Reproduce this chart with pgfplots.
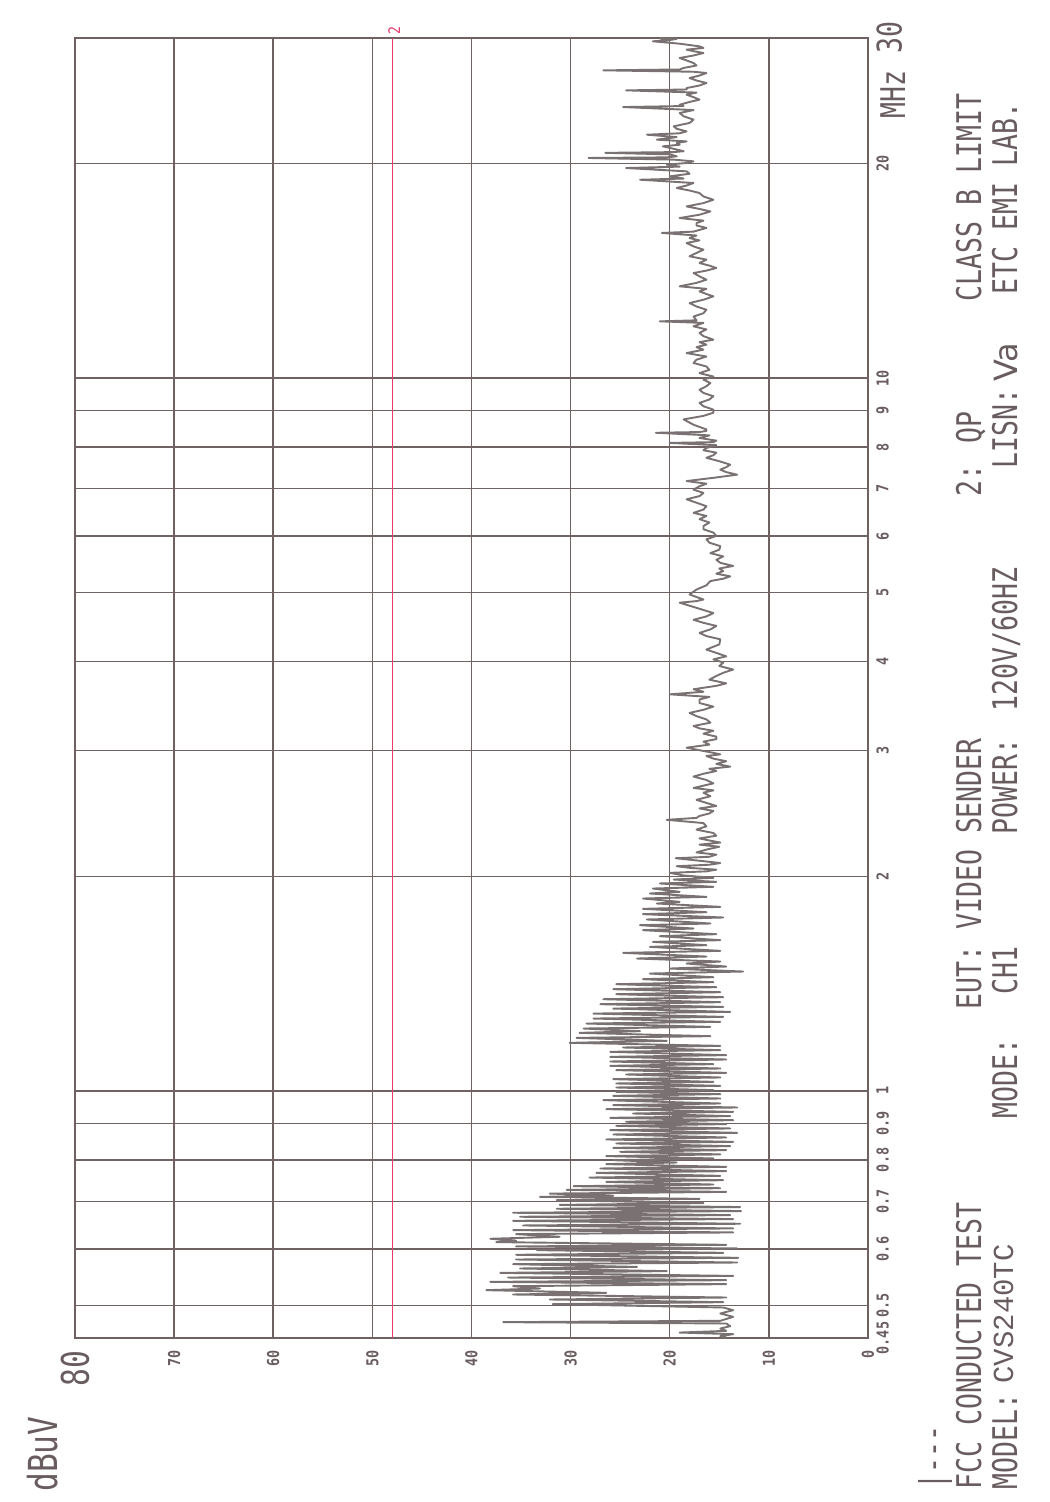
\documentclass[border=0pt]{standalone}
\usepackage{fontspec}
\usepackage{pgfplots}
\usepackage{pgfplotstable}
\pgfplotsset{compat=1.18}
\newfontfamily\plotfont[FakeStretch=0.78]{DejaVu Sans Mono}
\newfontfamily\tickfont[FakeStretch=0.82]{DejaVu Sans Mono}
\newfontfamily\twfont{Liberation Mono}
\newfontfamily\vafont{DejaVu Sans}
\definecolor{gridc}{RGB}{112,98,98}
\definecolor{tracec}{RGB}{122,114,114}
\definecolor{textc}{RGB}{105,92,95}
\definecolor{limitc}{RGB}{232,60,110}

\pgfplotstableread{
f dB
0.4505 14.3
0.4527 14.9
0.4556 13.6
0.4580 19.0
0.4605 14.3
0.4640 14.9
0.4675 13.9
0.4716 14.3
0.4736 36.8
0.4757 14.9
0.4818 13.6
0.4871 14.9
0.4923 13.6
0.4966 14.6
0.5020 31.8
0.5052 14.6
0.5096 32.1
0.5129 14.3
0.5179 35.8
0.5207 26.4
0.5252 38.5
0.5280 33.1
0.5320 35.8
0.5355 14.3
0.5395 38.1
0.5424 14.3
0.5471 36.3
0.5500 13.6
0.5554 37.1
0.5585 20.3
0.5633 35.1
0.5662 23.3
0.5712 35.8
0.5743 13.2
0.5799 35.5
0.5831 13.1
0.5888 35.5
0.5926 14.6
0.5977 33.4
0.6010 13.2
0.6049 35.5
0.6081 14.3
0.6134 37.5
0.6161 35.5
0.6201 38.1
0.6241 31.1
0.6295 35.5
0.6329 13.6
0.6377 35.8
0.6411 13.6
0.6473 34.8
0.6509 12.9
0.6572 35.8
0.6608 13.6
0.6658 35.1
0.6694 13.9
0.6745 35.8
0.6781 12.8
0.6832 31.4
0.6870 12.9
0.6918 31.1
0.6957 16.6
0.7024 31.4
0.7055 17.0
0.7100 33.1
0.7130 25.7
0.7176 32.1
0.7215 14.3
0.7262 30.4
0.7301 14.9
0.7349 29.7
0.7389 15.6
0.7453 26.4
0.7493 14.6
0.7558 28.1
0.7599 14.9
0.7673 27.4
0.7715 14.3
0.7782 27.0
0.7824 14.3
0.7892 26.4
0.7934 19.3
0.7994 25.7
0.8038 15.6
0.8098 26.4
0.8143 14.9
0.8213 25.0
0.8256 14.3
0.8318 25.7
0.8364 13.9
0.8436 25.4
0.8481 13.6
0.8546 26.4
0.8601 14.3
0.8685 25.7
0.8732 13.2
0.8807 26.0
0.8855 13.9
0.8932 25.4
0.8980 14.3
0.9049 24.4
0.9096 13.6
0.9165 26.0
0.9215 13.9
0.9294 23.7
0.9344 13.6
0.9425 26.4
0.9476 13.2
0.9548 25.7
0.9599 14.9
0.9703 26.7
0.9755 14.9
0.9840 25.7
0.9893 14.9
0.9968 25.4
1.0022 15.6
1.0108 25.4
1.0163 14.9
1.0240 25.4
1.0295 15.6
1.0384 25.7
1.0440 14.9
1.0542 24.4
1.0599 14.3
1.0691 25.4
1.0748 14.9
1.0841 26.0
1.0899 15.6
1.0994 26.0
1.1065 14.3
1.1161 26.0
1.1221 14.3
1.1343 26.0
1.1404 14.9
1.1502 24.7
1.1564 14.9
1.1677 30.1
1.1752 20.3
1.1866 29.4
1.1930 15.9
1.2059 29.1
1.2124 23.0
1.2229 28.7
1.2295 15.9
1.2428 28.4
1.2495 14.9
1.2630 27.7
1.2698 14.6
1.2835 27.7
1.2905 13.9
1.3044 25.7
1.3115 14.6
1.3229 27.0
1.3315 14.9
1.3444 26.7
1.3531 14.6
1.3663 25.4
1.3752 14.9
1.3886 25.7
1.3976 15.3
1.4112 25.4
1.4204 15.6
1.4342 22.7
1.4435 15.6
1.4607 22.0
1.4702 12.6
1.4845 20.0
1.4941 14.3
1.5087 18.3
1.5185 14.9
1.5333 23.3
1.5432 16.3
1.5616 24.7
1.5717 14.9
1.5922 22.0
1.6008 16.3
1.6181 21.7
1.6269 14.9
1.6481 21.0
1.6588 15.3
1.6803 22.7
1.6894 17.6
1.7077 23.0
1.7169 15.9
1.7393 22.3
1.7506 14.6
1.7696 22.7
1.7810 16.3
1.8003 22.7
1.8119 14.9
1.8316 21.3
1.8415 19.0
1.8614 22.7
1.8715 16.3
1.8918 22.0
1.9020 19.0
1.9226 21.7
1.9330 15.6
1.9540 21.0
1.9645 15.3
1.9794 19.6
1.9901 15.6
2.005 18.6
2.022 20.0
2.032 16.3
2.043 15.3
2.055 18.0
2.066 19.3
2.076 16.0
2.087 14.9
2.10 16.6
2.12 19.4
2.13 16.0
2.145 15.3
2.16 17.3
2.18 16.3
2.20 15.0
2.215 17.0
2.23 14.9
2.245 16.0
2.26 17.0
2.28 15.3
2.30 15.6
2.325 17.3
2.35 16.3
2.375 16.6
2.40 20.3
2.415 17.3
2.43 17.0
2.45 16.0
2.47 15.6
2.49 17.0
2.51 15.3
2.535 16.3
2.56 17.3
2.59 15.9
2.62 16.6
2.64 15.6
2.66 17.6
2.68 16.6
2.70 15.6
2.73 16.3
2.76 17.6
2.785 16.6
2.81 15.3
2.83 16.0
2.85 13.9
2.875 15.3
2.90 14.3
2.925 15.6
2.95 16.3
2.965 14.9
2.98 15.6
3.005 17.0
3.03 18.3
3.06 16.0
3.09 16.6
3.115 15.3
3.14 15.3
3.17 16.6
3.20 15.6
3.225 17.0
3.25 17.6
3.285 15.9
3.32 16.3
3.355 17.3
3.39 18.0
3.425 16.6
3.46 15.6
3.50 17.0
3.54 17.0
3.57 16.0
3.60 20.0
3.63 16.6
3.66 17.6
3.70 15.3
3.73 14.3
3.775 16.0
3.82 15.3
3.86 14.6
3.90 13.6
3.945 15.0
3.99 14.6
4.03 15.6
4.07 14.3
4.115 15.3
4.16 16.3
4.23 15.0
4.30 14.9
4.345 16.3
4.39 17.0
4.44 15.9
4.49 15.3
4.535 16.6
4.58 17.6
4.63 16.3
4.68 15.6
4.76 17.3
4.84 19.0
4.865 17.3
4.89 16.6
4.97 18.0
5.05 17.3
5.12 16.3
5.19 15.9
5.23 14.6
5.27 13.9
5.315 15.3
5.36 14.6
5.405 15.0
5.45 13.6
5.505 14.9
5.56 15.3
5.62 14.6
5.68 15.9
5.745 15.0
5.81 14.9
5.875 16.0
5.94 16.3
6.005 15.3
6.07 15.6
6.135 16.6
6.20 16.6
6.27 16.0
6.34 17.0
6.405 16.3
6.47 17.6
6.54 16.6
6.61 16.3
6.685 17.3
6.76 18.3
6.83 17.0
6.90 16.6
6.975 17.6
7.05 17.0
7.11 16.3
7.17 18.3
7.245 15.6
7.32 13.2
7.38 14.3
7.44 14.9
7.50 14.3
7.56 13.9
7.645 15.0
7.73 16.3
7.795 15.6
7.86 15.3
7.92 16.6
7.98 16.3
8.05 15.3
8.11 20.0
8.13 15.6
8.17 15.3
8.24 17.0
8.31 16.0
8.38 21.4
8.40 17.0
8.43 16.3
8.47 16.3
8.60 17.6
8.75 18.6
8.85 16.6
8.94 15.6
9.03 15.6
9.13 16.6
9.23 17.0
9.33 16.0
9.43 15.6
9.53 16.6
9.63 17.0
9.74 16.3
9.84 15.9
9.95 16.6
10.05 15.6
10.16 17.0
10.27 16.0
10.38 16.3
10.5 17.6
10.61 17.3
10.72 16.3
10.84 18.3
10.96 16.6
11.05 17.3
11.14 16.3
11.23 17.0
11.32 15.6
11.45 16.6
11.57 17.0
11.70 16.3
11.82 17.6
11.95 16.6
12.01 21.0
12.05 17.3
12.20 17.6
12.33 16.6
12.47 16.3
12.60 17.3
12.74 18.0
12.88 16.6
13.02 15.6
13.12 16.3
13.23 17.0
13.34 16.3
13.45 19.0
13.60 17.3
13.74 16.3
13.89 17.0
14.04 17.6
14.15 16.3
14.27 15.3
14.38 16.0
14.50 17.0
14.66 16.3
14.82 18.0
14.98 17.3
15.14 16.6
15.30 17.6
15.47 18.3
15.60 17.0
15.72 18.0
15.85 17.3
15.98 20.8
16.05 17.6
16.24 16.3
16.37 17.3
16.50 17.3
16.63 16.6
16.77 19.0
16.95 17.0
17.13 15.9
17.27 17.0
17.41 18.3
17.60 16.6
17.79 15.6
17.98 16.6
18.18 17.0
18.33 18.0
18.48 19.3
18.63 18.3
18.78 17.6
18.98 23.0
19.05 18.6
19.19 20.0
19.35 18.0
19.50 18.3
19.71 24.4
19.80 19.0
19.93 20.3
20.03 18.3
20.14 17.6
20.25 19.6
20.36 28.2
20.40 20.3
20.47 19.3
20.60 20.0
20.70 26.5
20.75 19.6
20.81 18.6
20.97 19.6
21.14 20.7
21.25 19.0
21.37 19.3
21.48 18.3
21.60 21.3
21.78 19.3
21.95 22.3
22.05 19.0
22.19 18.3
22.37 19.3
22.55 19.6
22.80 18.0
23.04 17.6
23.30 18.6
23.54 19.0
23.77 17.6
24.00 24.7
24.08 18.6
24.18 19.0
24.40 18.0
24.58 17.0
24.78 17.6
24.98 18.3
25.15 17.3
25.33 24.4
25.40 18.3
25.52 18.3
25.73 17.0
25.94 16.3
26.15 17.3
26.36 18.0
26.57 17.0
26.79 16.3
26.90 17.6
27.02 26.7
27.10 19.0
27.23 18.6
27.45 17.3
27.67 17.6
27.90 18.3
28.12 19.0
28.35 17.6
28.58 16.6
28.75 17.6
28.89 18.3
29.05 16.6
29.20 17.0
29.45 19.0
29.68 21.7
29.80 20.0
29.91 19.3
29.97 21.0
}\tracedata

\begin{document}
\begin{tikzpicture}
\path[use as bounding box] (0,0) rectangle (524.5pt,751pt);
\begin{axis}[
  at={(37.5pt,82pt)}, anchor=south west,
  scale only axis, width=396.5pt, height=650pt,
  xmin=0, xmax=80, x dir=reverse,
  ymode=log, ymin=0.45, ymax=30,
  xtick={0,10,20,30,40,50,60,70,80},
  xticklabels={0,10,20,30,40,50,60,70,{\mdseries\plotfont\fontsize{19}{19}\selectfont 80}},
  ytick={0.45,0.5,0.6,0.7,0.8,0.9,1,2,3,4,5,6,7,8,9,10,20,30},
  yticklabels={0.45,0.5,0.6,0.7,0.8,0.9,1,2,3,4,5,6,7,8,9,10,20,{\mdseries\plotfont\fontsize{17}{17}\selectfont 30}},
  grid=major,
  major grid style={gridc, line width=0.75pt},
  axis line style={gridc, line width=0.75pt},
  major tick length=0pt, minor tick num=0,
  yticklabel pos=right,
  xticklabel shift=6pt, yticklabel shift=4pt,
  xticklabel style={rotate=90, anchor=east, inner sep=0pt, text=textc, font=\tickfont\bfseries\fontsize{8.2}{9}\selectfont},
  yticklabel style={rotate=90, anchor=north, inner sep=0pt, text=textc, font=\tickfont\bfseries\fontsize{8.2}{9}\selectfont},
  clip mode=individual,
]
\addplot[tracec, line width=0.95pt, line join=round] table[x=dB, y=f] {\tracedata};
\addplot[limitc, line width=0.6pt] coordinates {(48,0.45) (48,30)};
\node[rotate=90, anchor=west, text=limitc, inner sep=1.5pt, font=\tickfont\fontsize{8}{8}\selectfont] at (axis cs:47.8,30) {2};
\end{axis}
\begin{scope}[x=0.5pt, y=-0.5pt, shift={(0,751pt)}]
\tikzset{txt/.style={rotate=90, anchor=base west, inner sep=0pt, text=textc, font=\plotfont\fontsize{17}{17}\selectfont}}
\node[txt, font=\plotfont\fontsize{20}{20}\selectfont] at (57,1492) {dBuV};
\node[txt] at (905,119) {MHz};
\node[txt] at (944,1490) {|---};
\node[txt] at (981,1490) {FCC CONDUCTED TEST};
\node[txt] at (981,1010) {EUT: VIDEO SENDER};
\node[txt] at (981,497) {2: QP};
\node[txt] at (981,302) {CLASS B LIMIT};
\node[txt] at (1017,1490) {MODEL:};
\node[txt, font=\twfont\fontsize{14.5}{14.5}\selectfont] at (1013,1384) {CVS240TC};
\node[txt] at (1017,1119) {MODE:};
\node[txt] at (1017,995) {CH1};
\node[txt] at (1017,835) {POWER:};
\node[txt] at (1017,712) {120V/60HZ};
\node[txt] at (1017,469) {LISN:};
\node[txt, font=\vafont\fontsize{16}{16}\selectfont] at (1017,382) {Va};
\node[txt] at (1017,295) {ETC EMI LAB.};
\end{scope}
\end{tikzpicture}
\end{document}
